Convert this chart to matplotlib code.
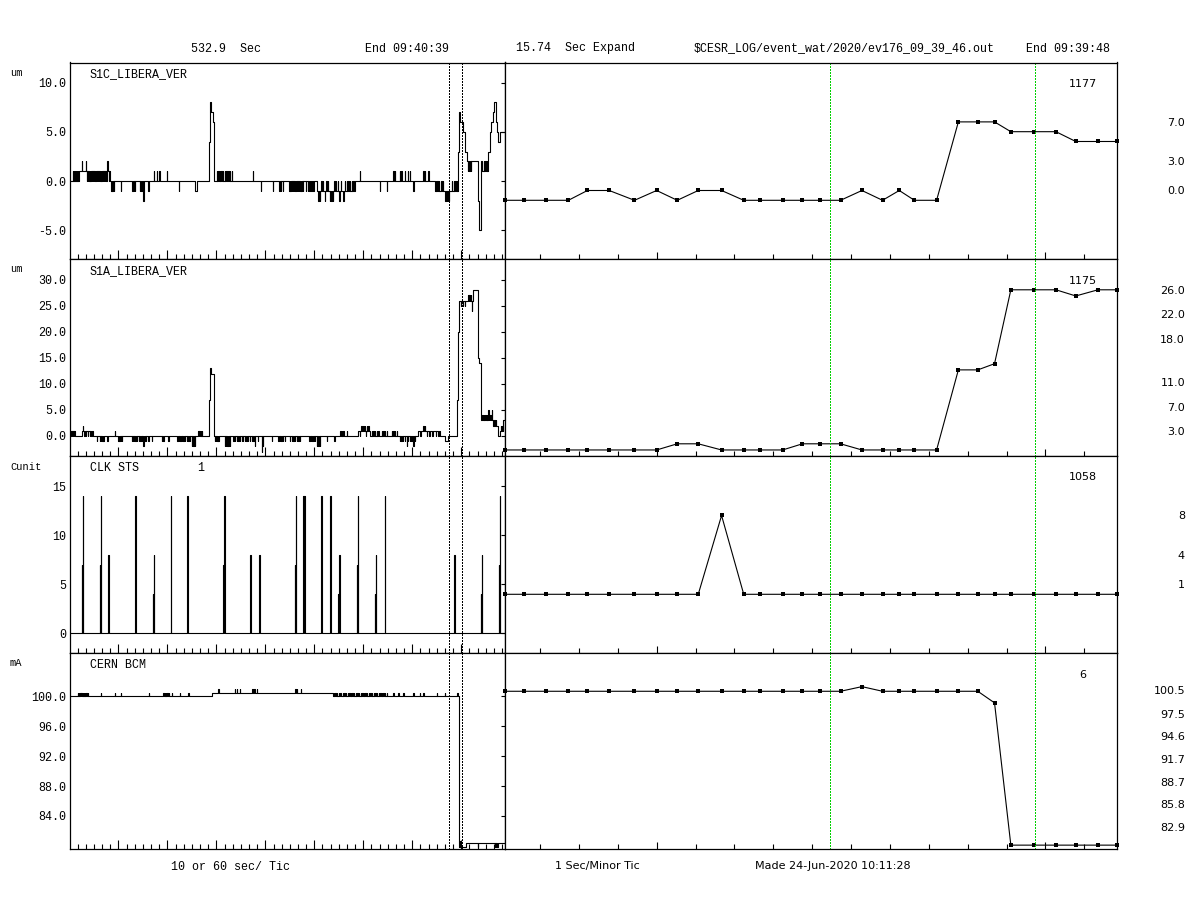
import numpy as np
import matplotlib
matplotlib.use("Agg")
import matplotlib.pyplot as plt

MONO = "Liberation Mono"
PROP = "DejaVu Sans"

# ---- header values ----
total_sec = 532.9
expand_sec = 15.74
win_start = 464.7          # where the expanded window starts on the long plot
win_marks = [8.37, 13.62]  # green markers inside the expanded window

# ---- long (left) plots: step levels plus short excursions (t sec, value) ----
s1c_step_t = [0, 10.6, 49.0, 153.1, 156.0, 170.7, 171.5, 172.7, 174.7, 175.8, 302.0, 349.0,
              447.0, 475.7, 476.9, 477.8, 479.8, 481.8, 483.9, 486.0, 493.3, 499.4, 501.0,
              503.1, 504.3, 512.5, 514.5, 515.7, 517.4, 518.6, 519.8, 521.5, 522.7, 524.7, 526.8]
s1c_step_v = [0, 1, 0, -1, 0, 4, 8, 7, 6, 0, -1, 0,
              -1, 3, 7, 6, 6, 5, 3, 2, 2, -2, -5,
              2, 1, 3, 5, 6, 6, 7, 8, 6, 5, 4, 5]
s1c_flicks = [
    (3.5, 1), (4.7, 1), (5.9, 1), (7.1, 1), (8.3, 1), (9.5, 1),
    (14.3, 2), (19.6, 2), (45.7, 2),
    (20.5, 0), (22.0, 0), (23.5, 0), (25.0, 0), (26.5, 0), (28.0, 0), (29.5, 0), (31.0, 0),
    (32.5, 0), (34.0, 0), (35.5, 0), (37.0, 0), (38.5, 0), (40.0, 0), (41.5, 0), (43.0, 0),
    (44.5, 0), (47.5, 0),
    (50.5, -1), (52.0, -1), (53.5, -1), (62.1, -1), (76.3, -1), (77.8, -1), (79.6, -1),
    (85.7, -1), (87.2, -1), (89.8, -2), (95.9, -1),
    (102.9, 1), (106.1, 1), (109.4, 1), (118.4, 1), (133.5, -1),
    (179.6, 1), (181.5, 1), (183.5, 1), (185.5, 1), (187.5, 1), (189.5, 1), (191.5, 1),
    (194.0, 1), (196.0, 1), (198.0, 1), (223.7, 1),
    (233.5, -1), (248.2, -1), (256.4, -1), (258.5, -1), (260.5, -1),
    (268.7, -1), (270.0, -1), (271.5, -1), (273.0, -1), (274.5, -1), (276.0, -1), (277.5, -1),
    (279.0, -1), (280.5, -1), (282.0, -1), (283.5, -1), (285.0, -1),
    (289.1, -1), (291.0, -1), (293.0, -1), (295.5, -1), (298.0, -1),
    (304, -2), (306, -2), (312, -2), (318, -2), (320, -2), (322, -2), (330, -2), (335, -2),
    (308, 0), (310, 0), (314, 0), (316, 0), (324, 0), (326, 0), (328, 0), (332, 0),
    (337, 0), (339, 0), (341, 0), (343, 0), (345, 0), (347, 0),
    (355.2, 1), (379.7, -1), (387.9, -1), (396, 1), (398, 1), (404, 1), (406, 1), (410, 1),
    (414, 1), (416.5, 1), (420.5, -1), (432.8, 1), (434.3, 1), (438.9, 1),
    (448.5, 0), (450, 0), (452, 0), (455, 0), (457, 0), (468, 0), (470, 0), (472, 0), (474, 0),
    (460, -2), (461.5, -2), (462.8, -2), (464, -2),
    (487.5, 1), (489, 1), (491, 1), (507, 2), (509, 2), (511, 2),
]

s1a_step_t = [0, 14.3, 27.8, 170.7, 171.8, 173.0, 176.0, 353.2, 367.5, 426.7, 453.2, 459.3,
              463.4, 473.6, 475.7, 476.9, 494.0, 500.2, 501.0, 503.0, 518.5, 524.7, 526.7, 530.8]
s1a_step_v = [0, 1, 0, 7, 13, 12, 0, 1, 0, 1, 0, -1,
              0, 7, 20, 26, 28, 15, 14, 3, 2, 0, 1, 3]
s1a_flicks = [
    (1.5, 1), (2.7, 1), (3.9, 1), (5.1, 1),
    (15.5, 2), (17.5, 0), (19.0, 0), (22.0, 0), (24.5, 0), (26.0, 0),
    (32.7, -1), (36.7, -1), (38.0, -1), (39.5, -1), (40.8, -1), (45.7, -1), (55.1, 1),
    (59.2, -1), (60.5, -1), (62.0, -1), (63.3, -1),
    (75.5, -1), (77.0, -1), (78.5, -1), (80.0, -1), (82.0, -1), (84.0, -1), (86.0, -1),
    (88.0, -1), (89.8, -2), (91.0, -1), (93.0, -1), (95.9, -1),
    (100.0, -1), (112.3, -1), (114.3, -1), (120.4, -1),
    (131.5, -1), (133.0, -1), (135.0, -1), (137.0, -1), (139.0, -1), (141.0, -1), (143.0, -1),
    (145.0, -1), (147.0, -1), (149.0, -2), (151.0, -2), (153.0, -2),
    (157.2, 1), (158.5, 1), (160.0, 1), (161.3, 1),
    (177.6, -1), (179.0, -1), (180.5, -1), (181.7, -1),
    (189.9, -2), (191.0, -2), (192.5, -2), (194.0, -2), (196.0, -2),
    (200.0, -1), (202.0, -1), (204.0, -1), (206.0, -1), (208.2, -1),
    (210.3, -1), (212.0, -1), (214.0, -1), (216.0, -1), (218.0, -1), (220.0, -1), (222.5, -1),
    (224.6, -1), (226.6, -2), (230.0, -1), (234.8, -3), (236.0, -2),
    (247.0, -1), (255.2, -1), (257.0, -1), (259.0, -1), (261.0, -1), (263.4, -1),
    (269.5, -1), (271.5, -1), (273.5, -1), (275.5, -1), (277.5, -1), (279.5, -1), (281.7, -1),
    (293.2, -1), (295.0, -1), (297.0, -1), (299.0, -1), (300.1, -1), (302.1, -2), (304.0, -2),
    (306.2, -2), (314.4, -1), (323.8, -1),
    (331.0, 1), (333.0, 1), (335.0, 1), (338.9, 1),
    (355.0, 0), (357.0, 2), (359.3, 2), (361.0, 2), (362.2, 0), (363.5, 2), (365.5, 2),
    (369.5, 1), (371.5, 1), (373.5, 1), (375.5, 1), (377.7, 1),
    (381.8, 1), (384.0, 1), (386.0, 1), (387.9, 1),
    (394.0, 1), (396.0, 1), (398.0, 1), (400.1, 1),
    (404.2, -1), (406.0, -1), (408.0, -1), (410.0, -1), (412.4, -2), (414.0, -1), (416.0, -1),
    (418.0, -1), (420.5, -2), (422.6, -1),
    (429.0, 0), (432.8, 2), (434.8, 2), (437.0, 0), (440.0, 0), (444.0, 0), (448.0, 0), (451.0, 0),
    (479.0, 25), (481.0, 25), (484.0, 25), (487.9, 27), (489.0, 27), (490.8, 27), (492.0, 24),
    (505.0, 4), (507.0, 4), (509.0, 4), (511.0, 4), (512.4, 5), (513.5, 4), (515.0, 4), (516.5, 5),
    (520.0, 3), (522.0, 3), (528.0, 2), (529.5, 2),
]

clk_step_t = [0]
clk_step_v = [0]
clk_flicks = [
    (14.3, 7), (15.5, 14), (36.3, 7), (37.6, 14), (46.9, 8), (80.0, 14), (101.3, 4), (102.5, 8),
    (123.3, 14), (143.7, 14), (187.8, 7), (189.0, 14), (220.9, 8), (231.9, 8), (275.2, 7),
    (276.4, 14), (285.8, 14), (287.0, 14), (307.9, 14), (318.9, 14), (328.7, 4), (330.0, 8),
    (351.1, 7), (352.4, 14), (373.2, 4), (374.4, 8), (385.4, 14), (469.9, 4), (470.8, 8),
    (503.0, 4), (504.2, 8), (525.1, 7), (526.3, 14),
]

bcm_step_t = [0, 173.9, 322.0, 476.9, 485.0]
bcm_step_v = [100.0, 100.5, 100.0, 79.9, 80.4]
bcm_flicks = [
    (9.5, 100.5), (11.0, 100.5), (12.5, 100.5), (14.0, 100.5), (15.5, 100.5), (17.0, 100.5),
    (18.5, 100.5), (20.0, 100.5), (22.0, 100.5), (37.6, 100.5), (55.1, 100.5), (62.1, 100.5),
    (96.8, 100.5), (114.5, 100.5), (116.0, 100.5), (117.5, 100.5), (119.0, 100.5),
    (121.0, 100.5), (124.5, 100.5), (134.7, 100.5), (144.9, 100.5),
    (181.7, 101.0), (202.0, 101.0), (204.0, 101.0), (208.2, 101.0), (223.5, 101.0),
    (226.0, 101.0), (228.5, 101.0), (276.0, 101.0), (278.0, 101.0), (283.0, 101.0),
    (323, 100.5), (325, 100.5), (327, 100.5), (329, 100.5), (331, 100.5), (334, 100.5),
    (336, 100.5), (338, 100.5), (340, 100.5), (342, 100.5), (344, 100.5), (346, 100.5),
    (348, 100.5), (350, 100.5), (352, 100.5), (354, 100.5), (356, 100.5), (358, 100.5),
    (360, 100.5), (362, 100.5), (364, 100.5), (366, 100.5), (368, 100.5), (370, 100.5),
    (372, 100.5), (374, 100.5), (376, 100.5), (378, 100.5), (380, 100.5), (382, 100.5),
    (384, 100.5), (386, 100.5), (388, 100.5), (396, 100.5), (402.2, 100.5), (408.3, 100.5),
    (420.5, 100.5), (421.5, 100.5), (428.7, 100.5), (432.8, 100.5), (449.1, 100.5),
    (459.3, 100.5), (474.4, 100.5),
    (477.6, 80.7), (499.4, 79.9), (520.6, 79.9), (521.5, 79.9), (522.5, 79.9), (523.4, 79.9),
]

# ---- expanded (right) plots: ~0.5 s samples ----
exp_t = [0, 0.49, 1.06, 1.63, 2.12, 2.68, 3.33, 3.90, 4.43, 4.97, 5.57, 6.14, 6.57, 7.14, 7.65,
         8.11, 8.63, 9.18, 9.71, 10.14, 10.53, 11.10, 11.66, 12.16, 12.59, 13.01, 13.60, 14.17,
         14.68, 15.25, 15.74]
exp_s1c = [-1, -1, -1, -1, 0, 0, -1, 0, -1, 0, 0, -1, -1, -1, -1, -1, -1, 0, -1, 0, -1, -1,
           7, 7, 7, 6, 6, 6, 5, 5, 5]
exp_s1a = [0, 0, 0, 0, 0, 0, 0, 0, 1, 1, 0, 0, 0, 0, 1, 1, 1, 0, 0, 0, 0, 0,
           13, 13, 14, 26, 26, 26, 25, 26, 26]
exp_clk = [0, 0, 0, 0, 0, 0, 0, 0, 0, 0, 8, 0, 0, 0, 0, 0, 0, 0, 0, 0, 0, 0,
           0, 0, 0, 0, 0, 0, 0, 0, 0]
exp_bcm = [100.4, 100.4, 100.4, 100.4, 100.4, 100.4, 100.4, 100.4, 100.4, 100.4, 100.4, 100.4,
           100.4, 100.4, 100.4, 100.4, 100.4, 101.0, 100.4, 100.4, 100.4, 100.4, 100.4, 100.4,
           98.9, 80.5, 80.5, 80.5, 80.5, 80.5, 80.5]

names = ["S1C_LIBERA_VER", "S1A_LIBERA_VER", "CLK STS", "CERN BCM"]
units = ["um", "um", "Cunit", "mA"]
counts = ["1177", "1175", "1058", "6"]

left_ticks = [[10, 5, 0, -5], [30, 25, 20, 15, 10, 5, 0], [15, 10, 5, 0], [100, 96, 92, 88, 84]]
left_labels = [["10.0", "5.0", "0.0", "-5.0"],
               ["30.0", "25.0", "20.0", "15.0", "10.0", "5.0", "0.0"],
               ["15", "10", "5", "0"],
               ["100.0", "96.0", "92.0", "88.0", "84.0"]]
right_ticks = [[7.0, 3.0, 0.0], [26.0, 22.0, 18.0, 11.0, 7.0, 3.0], [8, 4, 1],
               [100.5, 97.5, 94.6, 91.7, 88.7, 85.8, 82.9]]
right_labels = [["7.0", "3.0", "0.0"], ["26.0", "22.0", "18.0", "11.0", "7.0", "3.0"],
                ["8", "4", "1"], ["100.5", "97.5", "94.6", "91.7", "88.7", "85.8", "82.9"]]

left_ylim = [(-7.94, 12.07), (-3.85, 34.0), (-2.0, 18.1), (79.58, 105.8)]
right_ylim = [(-6.99, 13.06), (-0.98, 31.0), (-5.96, 14.04), (80.0, 105.35)]


def build(step_t, step_v, flicks, width=0.45):
    step_t = np.asarray(step_t, float)
    step_v = np.asarray(step_v, float)
    pts = list(zip(step_t, step_v))
    for t, v in flicks:
        i = np.searchsorted(step_t, t, side="right") - 1
        pts.append((t, v))
        pts.append((t + width, step_v[i]))
    pts.sort(key=lambda p: p[0])
    pts.append((total_sec, pts[-1][1]))
    arr = np.array(pts)
    return arr[:, 0], arr[:, 1]


series_long = [build(s1c_step_t, s1c_step_v, s1c_flicks),
               build(s1a_step_t, s1a_step_v, s1a_flicks),
               build(clk_step_t, clk_step_v, clk_flicks),
               build(bcm_step_t, bcm_step_v, bcm_flicks)]
series_exp = [exp_s1c, exp_s1a, exp_clk, exp_bcm]

W, H = 1200, 900
fig = plt.figure(figsize=(12, 9), dpi=100)
rows_px = [(62.5, 259), (259, 456), (456, 653), (653, 849)]


def box(x0, x1, top, bot):
    return [x0 / W, 1 - bot / H, (x1 - x0) / W, (bot - top) / H]


def ftext(x, y, s, family=MONO, size=8.4, **kw):
    fig.text(x / W, 1 - y / H, s, family=family, fontsize=size, va="center", **kw)


for i, (top, bot) in enumerate(rows_px):
    axl = fig.add_axes(box(70, 505, top, bot))
    axr = fig.add_axes(box(505, 1117, top, bot))

    # long plot
    t, v = series_long[i]
    axl.plot(t, v, color="k", lw=0.8, drawstyle="steps-post")
    axl.set_xlim(0, total_sec)
    axl.set_ylim(*left_ylim[i])
    axl.set_xticks(np.arange(59.3, total_sec, 60))
    axl.set_xticks(np.arange(9.3, total_sec, 10), minor=True)
    axl.tick_params(axis="x", which="both", direction="in", bottom=True, top=False,
                    labelbottom=False, width=0.8)
    axl.tick_params(axis="x", which="major", length=6.2)
    axl.tick_params(axis="x", which="minor", length=3.8)
    axl.set_yticks(left_ticks[i])
    axl.set_yticklabels(left_labels[i], family=MONO, fontsize=8.4)
    axl.tick_params(axis="y", left=False, right=True, labelleft=True, labelright=False,
                    direction="inout", length=5.8, width=0.8, pad=-0.4)
    for x in (win_start, win_start + expand_sec):
        axl.axvline(x, color="k", lw=0.8, ls=(0, (1, 1.2)), antialiased=False)

    # expanded plot
    axr.plot(exp_t, series_exp[i], color="k", lw=0.8, marker="s", ms=2.4, mew=0,
             clip_on=False)
    axr.set_xlim(0, expand_sec)
    axr.set_ylim(*right_ylim[i])
    axr.set_xticks([3.9, 13.9])
    axr.set_xticks(np.arange(0.9, expand_sec, 1), minor=True)
    axr.tick_params(axis="x", which="both", direction="in", bottom=True, top=False,
                    labelbottom=False, width=0.8)
    axr.tick_params(axis="x", which="major", length=5.2)
    axr.tick_params(axis="x", which="minor", length=3.4)
    axr.yaxis.tick_right()
    axr.set_yticks(right_ticks[i])
    axr.set_yticklabels(right_labels[i], family=PROP, fontsize=8, ha="right")
    axr.tick_params(axis="y", length=0, pad=49)
    for x in win_marks:
        axr.axvline(x, color="#00d000", lw=0.9, ls=(0, (1, 1.2)), antialiased=False)

    for ax in (axl, axr):
        for sp in ax.spines.values():
            sp.set_linewidth(0.9)

    # labels
    ftext(10, top + 10.5, units[i], size=7.5)
    ftext(90, top + 12, names[i])
    ftext(1083, top + 21.5, counts[i], family=PROP, size=8, ha="center")

ftext(197, rows_px[2][0] + 12, "1")

# header
ftext(191, 48.5, "532.9  Sec")
ftext(365, 48.5, "End 09:40:39")
ftext(516, 48.5, "15.74  Sec Expand")
ftext(694, 48.5, "$CESR_LOG/event_wat/2020/ev176_09_39_46.out")
ftext(1026, 48.5, "End 09:39:48")

# footer
ftext(171, 866.5, "10 or 60 sec/ Tic")
ftext(555, 866, "1 Sec/Minor Tic", family=PROP, size=8)
ftext(755, 866, "Made 24-Jun-2020 10:11:28", family=PROP, size=8)

fig.savefig("out.png", dpi=100, facecolor="white")
